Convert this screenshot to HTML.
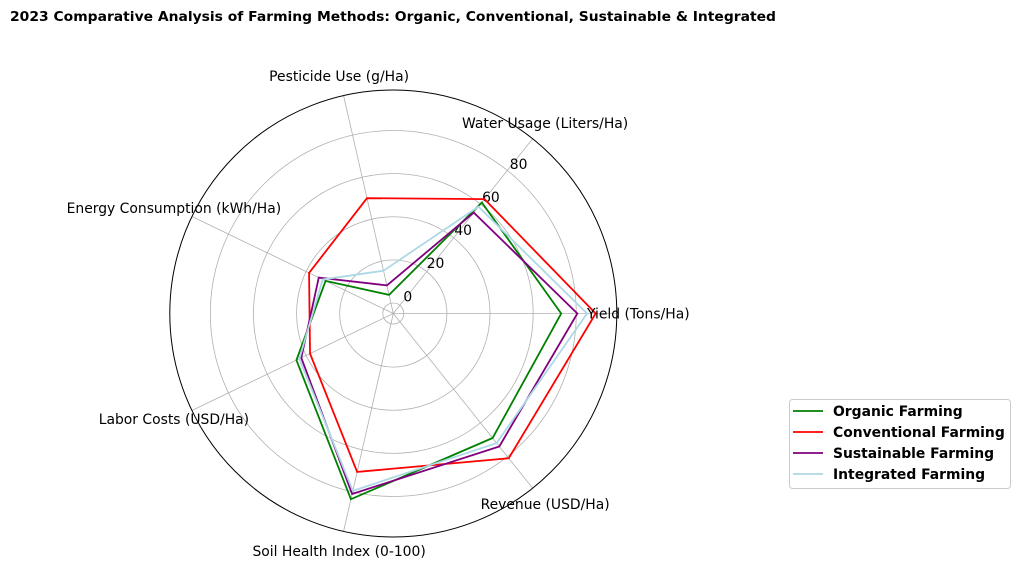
<!DOCTYPE html>
<html><head><meta charset="utf-8"><style>
html,body{margin:0;padding:0;background:#fff;}
svg{display:block;font-family:"DejaVu Sans","Liberation Sans",sans-serif;}
</style></head><body>
<svg id="chart" width="1020" height="569" viewBox="0 0 1020 569">
<text x="10" y="21" font-size="13" font-weight="bold" textLength="766" lengthAdjust="spacingAndGlyphs">2023 Comparative Analysis of Farming Methods: Organic, Conventional, Sustainable &amp; Integrated</text>
<g id="grid"></g>
<g id="series"></g>
<g id="labels"></g>
<g>
<rect x="789.5" y="399.5" width="221" height="89" rx="3" fill="#fff" stroke="#ccc"/>
<g id="legend-items"></g>
</g>
</svg>
<script>
const categories = ["Yield (Tons/Ha)","Water Usage (Liters/Ha)","Pesticide Use (g/Ha)","Energy Consumption (kWh/Ha)","Labor Costs (USD/Ha)","Soil Health Index (0-100)","Revenue (USD/Ha)"];
const seriesNames = ["Organic Farming","Conventional Farming","Sustainable Farming","Integrated Farming"];
const organic = [73, 61, 4, 30, 45, 83.5, 69];
const conventional = [89, 63, 50, 38.5, 38, 70.5, 81];
const sustainable = [80.5, 55, 8.5, 33.5, 42.5, 81, 74];
const integrated = [85, 58.5, 15.5, 31.5, 43.5, 79.5, 72];
const ticks = [0, 20, 40, 60, 80];
const colors = ["#008000","#ff0000","#800080","#add8e6"];
const allSeries = [organic, conventional, sustainable, integrated];

const NS = "http://www.w3.org/2000/svg";
const FS = 13.9;
const cx = 393.3, cy = 313.5, R = 223.5, r0 = 10.5, vmax = 98.8;
function rScale(v){ return r0 + v * (R - r0) / vmax; }
function ang(i){ return i * 2 * Math.PI / categories.length; }
function pt(i, v){ const r = rScale(v), a = ang(i); return [cx + r*Math.cos(a), cy - r*Math.sin(a)]; }
function mk(tag, attrs, parent){ const e = document.createElementNS(NS, tag); for (const k in attrs) e.setAttribute(k, attrs[k]); parent.appendChild(e); return e; }

const grid = document.getElementById('grid');
ticks.forEach(t => {
  const c = mk('circle', {cx, cy, r: rScale(t), fill: 'none', stroke: '#b0b0b0', 'stroke-width': 0.8}, grid);
  
  
});
categories.forEach((c, i) => {
  const a = ang(i);
  const l = mk('line', {x1: cx, y1: cy, x2: cx + R*Math.cos(a), y2: cy - R*Math.sin(a), stroke: '#b0b0b0', 'stroke-width': 0.8}, grid);
  
  
});
const outer = mk('circle', {cx, cy, r: R, fill: 'none', stroke: '#000', 'stroke-width': 1}, grid);



const ta = 50 * Math.PI / 180;
ticks.forEach(t => {
  const r = rScale(t) + 12;
  const tx = mk('text', {x: cx + r*Math.cos(ta), y: cy - r*Math.sin(ta) + 5, 'font-size': FS, 'text-anchor': 'middle', fill: '#000'}, grid);
  tx.textContent = t;
  
  
});

const sg = document.getElementById('series');
allSeries.forEach((s, k) => {
  const pts = s.map((v, i) => pt(i, v).join(',')).join(' ');
  const p = mk('polygon', {points: pts, fill: 'none', stroke: colors[k], 'stroke-width': 1.8, 'stroke-linejoin': 'miter'}, sg);
  
  
});

const lg = document.getElementById('labels');
const lblR = R + 20;
categories.forEach((c, i) => {
  const a = ang(i);
  const x = cx + lblR*Math.cos(a), y = cy - lblR*Math.sin(a);
  let anchor = 'middle';
  let xx = x;
  if (i === 0) { anchor = 'start'; xx = 587; }
  const tx = mk('text', {x: xx, y: y + 5, 'font-size': FS, 'text-anchor': anchor, fill: '#000'}, lg);
  tx.textContent = c;
  
  
});

const li = document.getElementById('legend-items');
seriesNames.forEach((n, k) => {
  const y = 411 + k * 21;
  const l = mk('line', {x1: 793, y1: y, x2: 823, y2: y, stroke: colors[k], 'stroke-width': 1.8}, li);
  
  
  const t = mk('text', {x: 833, y: y + 5, 'font-size': FS, 'font-weight': 'bold', fill: '#000'}, li);
  t.textContent = n;
  
  
});
</script>
</body></html>
